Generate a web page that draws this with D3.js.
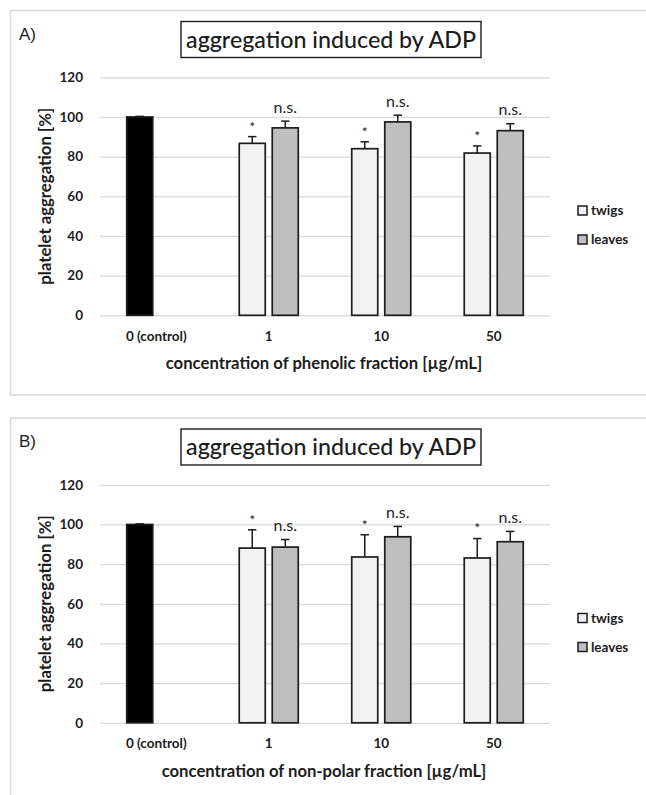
<!DOCTYPE html>
<html>
<head>
<meta charset="utf-8">
<script src="https://cdn.jsdelivr.net/npm/d3@7"></script>
<style>
  body { margin: 0; background: #fff; }
  svg { display: block; }
</style>
</head>
<body>
<svg id="chart" width="646" height="795"></svg>
<script>
// ---- data -------------------------------------------------------------
const categories = ["0 (control)", "1", "10", "50"];
const doses = ["1", "10", "50"];
const seriesNames = ["twigs", "leaves"];
const yTicks = [0, 20, 40, 60, 80, 100, 120];

const controlMean = 100;
const controlErr = 0.3;

// A) phenolic fraction
const twigsA = [86.7, 84.0, 81.8];
const twigsErrA = [3.4, 3.5, 3.6];
const leavesA = [94.5, 97.5, 93.1];
const leavesErrA = [3.4, 3.4, 3.5];
const twigsSigA = ["*", "*", "*"];
const leavesSigA = ["n.s.", "n.s.", "n.s."];

// B) non-polar fraction
const twigsB = [88.1, 83.6, 83.1];
const twigsErrB = [9.2, 11.2, 9.8];
const leavesB = [88.6, 93.8, 91.3];
const leavesErrB = [3.8, 5.2, 5.2];
const twigsSigB = ["*", "*", "*"];
const leavesSigB = ["n.s.", "n.s.", "n.s."];

const panelLetters = ["A)", "B)"];
const chartTitle = "aggregation induced by ADP";
const yTitle = "platelet aggregation [%]";
const xTitles = [
  "concentration of phenolic fraction [\u00b5g/mL]",
  "concentration of non-polar fraction [\u00b5g/mL]"
];

// ---- styling ----------------------------------------------------------
const FONT = "Lato, 'Open Sans', sans-serif";
const INK = "#1c1c1c";
const GRID = "#d9d9d9";
const FILL = { control: "#000000", twigs: "#f2f2f2", leaves: "#bfbfbf" };

const svg = d3.select("#chart");

// shrink/grow a text element's font-size so it spans the given width
function fitWidth(textSel, target) {
  const node = textSel.node();
  const fs = parseFloat(textSel.attr("font-size"));
  const w = node.getComputedTextLength();
  if (w > 0) textSel.attr("font-size", (fs * target / w).toFixed(2));
}

function drawPanel(top, idx, twigs, twigsErr, leaves, leavesErr, twigsSig, leavesSig, frameH, xTitleWidth) {
  const g = svg.append("g");

  // panel frame
  g.append("rect")
    .attr("x", 10.5).attr("y", top)
    .attr("width", 700).attr("height", frameH)
    .attr("fill", "none").attr("stroke", GRID).attr("stroke-width", 1.6);

  // panel letter
  g.append("text")
    .attr("x", 19).attr("y", top + 29)
    .attr("font-family", "'Liberation Sans', Arial, sans-serif")
    .attr("font-size", 17).attr("fill", INK)
    .text(panelLetters[idx]);

  // boxed title
  g.append("rect")
    .attr("x", 181).attr("y", top + 11)
    .attr("width", 300).attr("height", 36)
    .attr("fill", "#fff").attr("stroke", INK).attr("stroke-width", 1.4);
  const t = g.append("text")
    .attr("x", 331).attr("y", top + 29).attr("dy", "0.35em")
    .attr("text-anchor", "middle")
    .attr("font-family", FONT).attr("font-size", 22).attr("font-weight", 500)
    .attr("fill", INK)
    .text(chartTitle);
  fitWidth(t, 290);

  // scales
  const y = d3.scaleLinear().domain([0, 120]).range([top + 304.8, top + 66.8]);
  const x0 = d3.scaleBand().domain(categories).range([100, 550]);
  const x1 = d3.scaleBand().domain(seriesNames)
    .range([0, x0.bandwidth()])
    .paddingInner(0.212).paddingOuter(0.81);

  // y axis with gridlines
  const yAxis = g.append("g")
    .attr("transform", "translate(100,0)")
    .call(d3.axisLeft(y).tickValues(yTicks).tickSize(-450).tickPadding(17));
  yAxis.select(".domain").remove();
  yAxis.selectAll(".tick line").attr("stroke", GRID).attr("stroke-width", 1.3);
  yAxis.selectAll(".tick text")
    .attr("font-family", FONT).attr("font-size", 13.5).attr("font-weight", 700)
    .attr("fill", INK);

  // x axis labels
  const xAxis = g.append("g")
    .attr("transform", `translate(0,${y(0)})`)
    .call(d3.axisBottom(x0).tickSize(0).tickPadding(16));
  xAxis.select(".domain").remove();
  xAxis.selectAll(".tick text")
    .attr("font-family", FONT).attr("font-size", 13.5).attr("font-weight", 700)
    .attr("fill", INK);

  // axis titles
  const yt = g.append("text")
    .attr("transform", `translate(45,${(y(0) + y(120)) / 2}) rotate(-90)`)
    .attr("dy", "0.35em")
    .attr("text-anchor", "middle")
    .attr("font-family", FONT).attr("font-size", 14).attr("font-weight", 700)
    .attr("fill", INK)
    .text(yTitle);
  fitWidth(yt, 177);

  const xt = g.append("text")
    .attr("x", 324).attr("y", y(0) + 48).attr("dy", "0.35em")
    .attr("text-anchor", "middle")
    .attr("font-family", FONT).attr("font-size", 15).attr("font-weight", 700)
    .attr("fill", INK)
    .text(xTitles[idx]);
  fitWidth(xt, xTitleWidth);

  // bar records
  const bars = [{ cat: categories[0], series: "twigs", kind: "control", v: controlMean, e: controlErr, sig: "" }];
  doses.forEach((d, i) => {
    bars.push({ cat: d, series: "twigs", kind: "twigs", v: twigs[i], e: twigsErr[i], sig: twigsSig[i] });
    bars.push({ cat: d, series: "leaves", kind: "leaves", v: leaves[i], e: leavesErr[i], sig: leavesSig[i] });
  });
  const cx = d => x0(d.cat) + x1(d.series) + x1.bandwidth() / 2;

  // error bars (positive only)
  const eb = g.append("g").selectAll("g").data(bars).join("g")
    .attr("stroke", INK).attr("stroke-width", 1.5);
  eb.append("line")
    .attr("x1", cx).attr("x2", cx)
    .attr("y1", d => y(d.v)).attr("y2", d => y(d.v + d.e));
  eb.append("line")
    .attr("x1", d => cx(d) - 4.2).attr("x2", d => cx(d) + 4.2)
    .attr("y1", d => y(d.v + d.e)).attr("y2", d => y(d.v + d.e));

  // bars
  g.append("g").selectAll("rect").data(bars).join("rect")
    .attr("x", d => x0(d.cat) + x1(d.series))
    .attr("width", x1.bandwidth())
    .attr("y", d => y(d.v))
    .attr("height", d => y(0) - y(d.v))
    .attr("fill", d => FILL[d.kind])
    .attr("stroke", INK).attr("stroke-width", 1.7);

  // significance marks
  g.append("g").selectAll("text").data(bars.filter(d => d.sig)).join("text")
    .attr("x", cx)
    .attr("y", d => y(d.v + d.e) - (d.sig === "*" ? 10 : 14))
    .attr("dy", "0.35em")
    .attr("text-anchor", "middle")
    .attr("font-family", FONT)
    .attr("font-size", d => d.sig === "*" ? 14 : 16)
    .attr("fill", INK)
    .text(d => d.sig);

  // legend
  const lg = g.append("g").selectAll("g").data(seriesNames).join("g")
    .attr("transform", (d, i) => `translate(578,${top + 200 + i * 29})`);
  lg.append("rect")
    .attr("x", 0).attr("y", -4.5).attr("width", 9).attr("height", 9)
    .attr("fill", d => FILL[d]).attr("stroke", INK).attr("stroke-width", 1.5);
  lg.append("text")
    .attr("x", 13).attr("dy", "0.35em")
    .attr("font-family", FONT).attr("font-size", 13.5).attr("font-weight", 700)
    .attr("fill", INK)
    .text(d => d);
}

drawPanel(10.5, 0, twigsA, twigsErrA, leavesA, leavesErrA, twigsSigA, leavesSigA, 384.5, 317);
drawPanel(418, 1, twigsB, twigsErrB, leavesB, leavesErrB, twigsSigB, leavesSigB, 400, 325);
</script>
</body>
</html>
